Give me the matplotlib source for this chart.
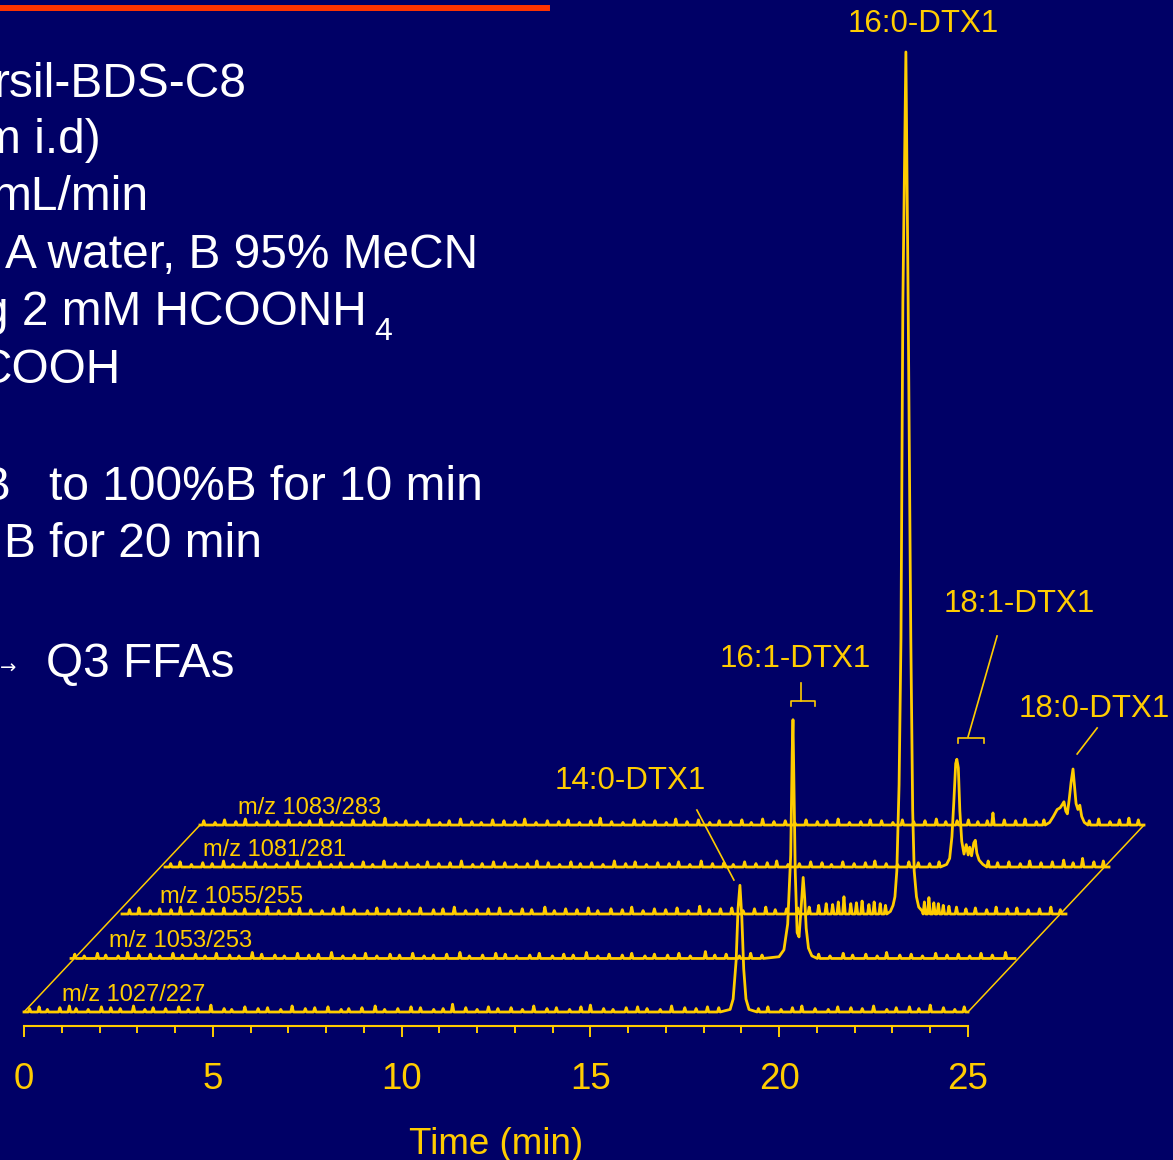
import numpy as np
import matplotlib
matplotlib.use('Agg')
from matplotlib import pyplot as plt
from matplotlib.lines import Line2D
from matplotlib.transforms import Affine2D

W, H = 1173, 1160
BG = '#000066'
GOLD = '#FFCC00'

plt.rcParams['font.family'] = ['Liberation Sans', 'DejaVu Sans']

# MRM channels, bottom trace first
channels = ['m/z 1027/227', 'm/z 1053/253', 'm/z 1055/255', 'm/z 1081/281', 'm/z 1083/283']
# pseudo-3D shift of each trace: time (min) and intensity (% of 16:0-DTX1 peak)
shift_t = [0.0, 1.245, 2.595, 3.734, 4.661]
shift_y = [0.0, 6.21, 11.37, 16.82, 21.69]
run_end = 25.0

# peak shapes (time min, relative intensity %)
peak1_t = [18.70, 18.78, 18.86, 18.91, 18.96, 19.01, 19.06, 19.12, 19.20]
peak1_y = [0.3, 1.5, 6.0, 12.0, 14.7, 11.0, 5.0, 1.5, 0.3]

peak2_t = [18.75, 18.88, 18.98, 19.06, 19.10, 19.12, 19.14, 19.18, 19.23,
           19.28, 19.33, 19.39, 19.43, 19.47, 19.53, 19.62]
peak2_y = [0.2, 1.0, 4.0, 12.0, 24.0, 27.7, 22.0, 10.0, 3.0,
           2.5, 5.5, 9.4, 7.0, 3.5, 1.2, 0.3]

peak3_t = [20.35, 20.42, 20.47, 20.52, 20.58, 20.63, 20.68, 20.76, 20.82,
           20.89, 20.94, 20.98, 21.04, 21.10, 21.20]
peak3_y = [0.3, 1.0, 2.0, 5.0, 15.0, 32.0, 71.0, 100.0, 71.0,
           32.0, 12.0, 5.0, 2.0, 0.8, 0.3]

peak4_t = [20.70, 20.78, 20.84, 20.89, 20.94, 20.97, 21.01, 21.05, 21.10,
           21.16, 21.22, 21.27, 21.31, 21.36, 21.42, 21.46, 21.50, 21.56, 21.66]
peak4_y = [0.3, 1.0, 3.5, 7.5, 12.0, 12.5, 11.5, 6.5, 3.0,
           1.5, 2.6, 1.4, 2.3, 1.3, 2.8, 3.1, 1.6, 0.8, 0.3]

peak5_t = [22.50, 22.60, 22.70, 22.78, 22.84, 22.88, 22.93, 22.97, 23.02,
           23.07, 23.12, 23.16, 23.20, 23.25, 23.30, 23.35, 23.42]
peak5_y = [0.3, 1.0, 1.8, 2.0, 2.4, 2.7, 1.6, 1.3, 3.0,
           5.0, 6.5, 4.5, 2.5, 1.8, 2.3, 1.0, 0.3]

# baseline noise spikes (time min, relative intensity %)
noise1_t = [0.15, 0.4, 0.62, 0.95, 1.2, 1.38, 1.7, 2.05, 2.3, 2.55, 2.9, 3.2, 3.42,
            3.75, 4.1, 4.35, 4.6, 4.95, 5.3, 5.5, 5.85, 6.2, 6.45, 6.8, 7.1, 7.45,
            7.7, 8.05, 8.4, 8.6, 8.95, 9.3, 9.55, 9.9, 10.25, 10.5, 10.85, 11.1,
            11.35, 11.7, 12.0, 12.3, 12.55, 12.9, 13.2, 13.5, 13.85, 14.1, 14.45,
            14.75, 15.0, 15.35, 15.6, 15.95, 16.25, 16.5, 16.85, 17.15, 17.5, 17.8,
            18.1, 18.4, 19.45, 19.7, 20.05, 20.35, 20.6, 20.95, 21.3, 21.55, 21.9,
            22.2, 22.5, 22.85, 23.1, 23.45, 23.7, 24.0, 24.35, 24.65, 24.9]
noise1_y = [0.4, 0.6, 0.3, 0.5, 0.7, 0.4, 0.3, 0.6, 0.5, 0.4, 0.7, 0.3, 0.5,
            0.4, 0.6, 0.3, 0.5, 0.8, 0.4, 0.3, 0.6, 0.4, 0.5, 0.3, 0.7, 0.4,
            0.5, 0.6, 0.3, 0.4, 0.5, 0.7, 0.3, 0.4, 0.6, 0.5, 0.3, 0.4,
            0.9, 0.5, 0.3, 0.6, 0.4, 0.5, 0.3, 0.7, 0.4, 0.5, 0.3,
            0.6, 0.8, 0.4, 0.3, 0.5, 0.6, 0.4, 0.3, 0.7, 0.5, 0.4,
            0.6, 0.5, 0.4, 0.6, 0.3, 0.5, 0.7, 0.4, 0.3, 0.6, 0.5,
            0.4, 0.7, 0.3, 0.5, 0.6, 0.4, 0.8, 0.5, 0.3, 0.6]

noise2_t = [0.1, 0.35, 0.7, 0.92, 1.25, 1.5, 1.8, 2.1, 2.35, 2.7, 2.95, 3.3, 3.55,
            3.85, 4.2, 4.45, 4.8, 5.05, 5.4, 5.65, 6.0, 6.3, 6.55, 6.9, 7.2, 7.5,
            7.8, 8.1, 8.45, 8.7, 9.05, 9.35, 9.6, 9.95, 10.3, 10.55, 10.9, 11.25,
            11.5, 11.8, 12.15, 12.4, 12.75, 13.05, 13.3, 13.65, 13.95, 14.25, 14.6,
            14.85, 15.2, 15.45, 15.8, 16.1, 16.4, 16.8, 17.05, 17.35, 17.7, 18.0,
            18.3, 19.8, 20.1, 20.45, 20.7, 21.05, 21.35, 21.6, 21.95, 22.25, 22.55,
            22.9, 23.2, 23.5, 23.8, 24.1, 24.4, 24.75]
noise2_y = [0.5, 0.3, 0.6, 0.4, 0.3, 0.7, 0.4, 0.5, 0.3, 0.6, 0.4, 0.5, 0.3,
            0.6, 0.4, 0.3, 0.7, 0.5, 0.4, 0.3, 0.6, 0.4, 0.5, 0.7, 0.3, 0.4,
            0.6, 0.3, 0.5, 0.4, 0.6, 0.3, 0.4, 0.5, 0.7, 0.3, 0.4, 0.6,
            0.5, 0.3, 0.4, 0.6, 0.3, 0.5, 0.4, 0.7, 0.3, 0.5, 0.4,
            0.6, 0.3, 0.5, 0.4, 0.6, 0.3, 0.8, 0.4, 0.5, 0.3, 0.6,
            0.4, 0.5, 0.3, 0.6, 0.4, 0.5, 0.3, 0.7, 0.4, 0.5, 0.3,
            0.6, 0.4, 0.5, 0.3, 0.6, 0.4, 0.7]

noise3_t = [0.2, 0.45, 0.75, 1.0, 1.3, 1.55, 1.85, 2.15, 2.4, 2.7, 3.0, 3.25, 3.6,
            3.85, 4.15, 4.45, 4.7, 5.0, 5.3, 5.6, 5.85, 6.15, 6.5, 6.75, 7.05,
            7.35, 7.6, 7.9, 8.25, 8.5, 8.8, 9.1, 9.4, 9.7, 10.0, 10.3, 10.6,
            10.85, 11.2, 11.45, 11.75, 12.05, 12.35, 12.6, 12.95, 13.25, 13.5,
            13.8, 14.1, 14.4, 14.7, 15.0, 15.3, 15.55, 15.85, 16.15, 16.45, 16.75,
            17.05, 17.3, 17.6, 17.9, 18.2,
            18.45, 18.65, 18.82, 18.97, 19.12, 19.3, 19.45, 19.6, 19.78, 19.92,
            20.08, 20.22,
            21.25, 21.37, 21.5, 21.62, 21.75, 21.9,
            22.1, 22.35, 22.6, 22.9, 23.15, 23.45, 23.7, 24.0, 24.3, 24.6, 24.85]
noise3_y = [0.5, 0.7, 0.4, 0.6, 0.5, 0.8, 0.4, 0.6, 0.5, 0.7, 0.4, 0.6, 0.5,
            0.8, 0.4, 0.6, 0.7, 0.5, 0.4, 0.6, 0.8, 0.5, 0.4, 0.7, 0.5,
            0.6, 0.4, 0.7, 0.5, 0.6, 0.8, 0.4, 0.5, 0.6, 0.7, 0.4, 0.6,
            0.5, 0.8, 0.4, 0.6, 0.5, 0.7, 0.4, 0.6, 0.5, 0.8,
            0.4, 0.6, 0.5, 0.7, 0.4, 0.9, 0.5, 0.6, 0.7, 0.4, 0.6,
            0.8, 0.5, 0.6, 0.7, 0.8,
            1.0, 1.2, 1.1, 1.4, 2.0, 1.2, 1.3, 1.5, 1.1, 1.4,
            1.2, 1.0,
            1.4, 1.9, 1.3, 1.2, 1.0, 0.9,
            0.8, 0.6, 0.7, 0.5, 0.8, 0.6, 0.7, 0.5, 0.6, 0.8, 0.5]

noise4_t = [0.15, 0.4, 0.7, 1.0, 1.25, 1.55, 1.8, 2.1, 2.4, 2.65, 2.95, 3.25, 3.5,
            3.8, 4.1, 4.4, 4.65, 4.95, 5.25, 5.5, 5.8, 6.1, 6.4, 6.7, 6.95, 7.25,
            7.55, 7.85, 8.15, 8.4, 8.7, 9.0, 9.3, 9.6, 9.85, 10.15, 10.45, 10.75,
            11.0, 11.3, 11.6, 11.9, 12.2, 12.45, 12.75, 13.05, 13.35, 13.6, 13.9,
            14.2, 14.5, 14.8, 15.05, 15.35, 15.65, 15.95, 16.2, 16.5, 16.8, 17.1,
            17.4, 17.65, 17.95, 18.25, 18.55, 18.8, 19.1, 19.4, 19.7, 19.95, 20.25,
            20.5, 21.8, 22.05, 22.35, 22.65, 22.9, 23.2, 23.5, 23.8, 24.05, 24.3,
            24.6, 24.85]
noise4_y = [0.4, 0.6, 0.3, 0.5, 0.4, 0.7, 0.3, 0.5, 0.6, 0.4, 0.3, 0.5, 0.7,
            0.4, 0.6, 0.3, 0.5, 0.4, 0.6, 0.3, 0.7, 0.4, 0.5, 0.3, 0.6, 0.4,
            0.5, 0.7, 0.3, 0.4, 0.6, 0.5, 0.3, 0.4, 0.7, 0.5, 0.3, 0.6,
            0.4, 0.5, 0.3, 0.7, 0.4, 0.6, 0.3, 0.5, 0.4, 0.6, 0.3,
            0.7, 0.4, 0.5, 0.3, 0.6, 0.4, 0.5, 0.7, 0.3, 0.4, 0.6,
            0.5, 0.3, 0.6, 0.4, 0.5, 0.7, 0.4, 0.3, 0.6, 0.5, 0.4,
            0.6, 0.7, 0.5, 0.6, 0.4, 0.7, 0.5, 0.6, 0.8, 0.5, 1.0,
            0.6, 0.7]

noise5_t = [0.1, 0.4, 0.65, 0.95, 1.2, 1.5, 1.8, 2.05, 2.35, 2.65, 2.9, 3.2, 3.5,
            3.75, 4.05, 4.35, 4.6, 4.9, 5.2, 5.45, 5.75, 6.05, 6.35, 6.6, 6.9,
            7.2, 7.45, 7.75, 8.05, 8.35, 8.6, 8.9, 9.2, 9.5, 9.75, 10.05, 10.35,
            10.6, 10.9, 11.2, 11.5, 11.75, 12.05, 12.35, 12.6, 12.9, 13.2, 13.5,
            13.75, 14.05, 14.35, 14.6, 14.9, 15.2, 15.5, 15.75, 16.05, 16.35, 16.6,
            16.9, 17.2, 17.5, 17.75, 18.05, 18.35, 18.6, 18.9, 19.2, 19.5, 19.75,
            20.05, 20.35, 20.6, 20.85, 21.0, 21.3, 21.6, 21.85, 22.15, 22.35,
            23.55, 23.8, 24.1, 24.35, 24.6, 24.85]
noise5_y = [0.5, 0.3, 0.6, 0.4, 0.7, 0.3, 0.5, 0.4, 0.6, 0.3, 0.5, 0.7, 0.4,
            0.3, 0.6, 0.5, 0.4, 0.8, 0.3, 0.5, 0.4, 0.6, 0.3, 0.5, 0.7,
            0.4, 0.3, 0.6, 0.5, 0.4, 0.7, 0.3, 0.5, 0.4, 0.6, 0.3, 0.5,
            0.8, 0.4, 0.3, 0.6, 0.4, 0.5, 0.3, 0.7, 0.4, 0.6, 0.3,
            0.5, 0.4, 0.6, 0.3, 0.7, 0.4, 0.5, 0.3, 0.6, 0.4, 0.5,
            0.7, 0.3, 0.4, 0.6, 0.5, 0.3, 0.6, 0.4, 0.5, 0.7, 0.4,
            0.5, 0.6, 0.4, 0.5, 1.4, 0.6, 0.5, 0.7, 0.4, 0.6,
            0.5, 0.7, 0.4, 0.6, 0.8, 0.6]

peaks = [(peak1_t, peak1_y), (peak2_t, peak2_y), (peak3_t, peak3_y),
         (peak4_t, peak4_y), (peak5_t, peak5_y)]
noises = [(noise1_t, noise1_y), (noise2_t, noise2_y), (noise3_t, noise3_y),
          (noise4_t, noise4_y), (noise5_t, noise5_y)]

# left-hand method text (cropped in the slide)
method_lines = ['rsil-BDS-C8', 'm i.d)', 'mL/min', 'A water, B 95% MeCN',
                'g 2 mM HCOONH', 'COOH', 'to 100%B for 10 min', 'B for 20 min', 'Q3 FFAs']


def build_trace(peak_t, peak_y, noise_t, noise_y):
    pts = [(0.0, 0.0), (run_end, 0.0)]
    lo, hi = min(peak_t), max(peak_t)
    for t, h in zip(noise_t, noise_y):
        if lo - 0.05 < t < hi + 0.05:
            continue
        pts += [(t - 0.035, 0.0), (t, h), (t + 0.035, 0.0)]
    pts += list(zip(peak_t, peak_y))
    pts.sort()
    return np.array(pts).T


fig = plt.figure(figsize=(W / 100, H / 100), dpi=100, facecolor=BG)
ax = fig.add_axes([0, 0, 1, 1])
ax.set_facecolor(BG)
ax.set_xlim(-0.6356, 30.429)
ax.set_ylim(-17.17, 117.4)

# pixel transform for the slide text
px = Affine2D().scale(1 / W, -1 / H).translate(0, 1) + fig.transFigure

# traces
for i in range(5):
    t, y = build_trace(*peaks[i], *noises[i])
    ax.plot(t + shift_t[i], y + shift_y[i], color=GOLD, lw=2.0, zorder=3)
    ax.text(shift_t[i] + 1.0, shift_y[i] + 1.3, channels[i], color=GOLD,
            fontsize=17, ha='left', va='baseline')

# perspective edges
ax.plot([shift_t[0], shift_t[-1]], [shift_y[0], shift_y[-1]], color=GOLD, lw=1.1)
ax.plot([run_end + shift_t[0], run_end + shift_t[-1]], [shift_y[0], shift_y[-1]],
        color=GOLD, lw=1.1)

# peak labels and leader lines
lab = dict(color=GOLD, fontsize=22.5, ha='center', va='baseline')
ax.text(23.81, 113.7, '16:0-DTX1', **lab)
ax.text(20.43, 40.0, '16:1-DTX1', **lab)
ax.text(26.35, 46.4, '18:1-DTX1', **lab)
ax.text(28.34, 34.2, '18:0-DTX1', **lab)
ax.text(16.05, 25.9, '14:0-DTX1', **lab)

ln = dict(color=GOLD, lw=1.2)
ax.plot([17.82, 18.80], [23.43, 15.31], **ln)
ax.plot([20.58, 20.58], [38.17, 36.08], **ln)
ax.plot([20.31, 20.31, 20.95, 20.95], [35.50, 36.08, 36.08, 35.50], **ln)
ax.plot([25.77, 25.0], [43.62, 31.90], **ln)
ax.plot([24.74, 24.74, 25.42, 25.42], [31.21, 31.79, 31.79, 31.21], **ln)
ax.plot([28.42, 27.89], [32.95, 29.93], **ln)

# time axis
for s in ['top', 'left', 'right']:
    ax.spines[s].set_visible(False)
ax.spines['bottom'].set_position(('data', -1.624))
ax.spines['bottom'].set_bounds(0, run_end)
ax.spines['bottom'].set_color(GOLD)
ax.spines['bottom'].set_linewidth(1.5)
ax.set_yticks([])
ax.set_xticks(range(0, 26, 5))
ax.set_xticks(range(0, 26), minor=True)
ax.tick_params(axis='x', which='major', length=7.9, width=1.4, color=GOLD,
               labelcolor=GOLD, labelsize=26.5, pad=18, direction='out')
ax.tick_params(axis='x', which='minor', length=5, width=1.4, color=GOLD, direction='out')
ax.text(12.5, -16.47, 'Time (min)', color=GOLD, fontsize=26.5, ha='center', va='baseline')

# slide decoration and method text
fig.add_artist(Line2D([0, 547], [8, 8], transform=px, color='#FF3300', lw=4.3))
right_x = [247, 101, 149, 478, 367, 121, 483, 262, 235]
base_y = [97, 153, 210, 268, 325, 383, 500, 557, 677]
for s, x, y in zip(method_lines, right_x, base_y):
    fig.text(x, y, s, transform=px, color='white', fontsize=34.5, ha='right', va='baseline')
fig.text(392, 340, '4', transform=px, color='white', fontsize=23, ha='right', va='baseline')
fig.text(10, 500, 'B', transform=px, color='white', fontsize=34.5, ha='right', va='baseline')
fig.text(16, 674, '\u2192', transform=px, color='white', fontsize=14, ha='right',
         va='baseline', family='DejaVu Sans')

fig.savefig('out.png', dpi=100, facecolor=BG)
